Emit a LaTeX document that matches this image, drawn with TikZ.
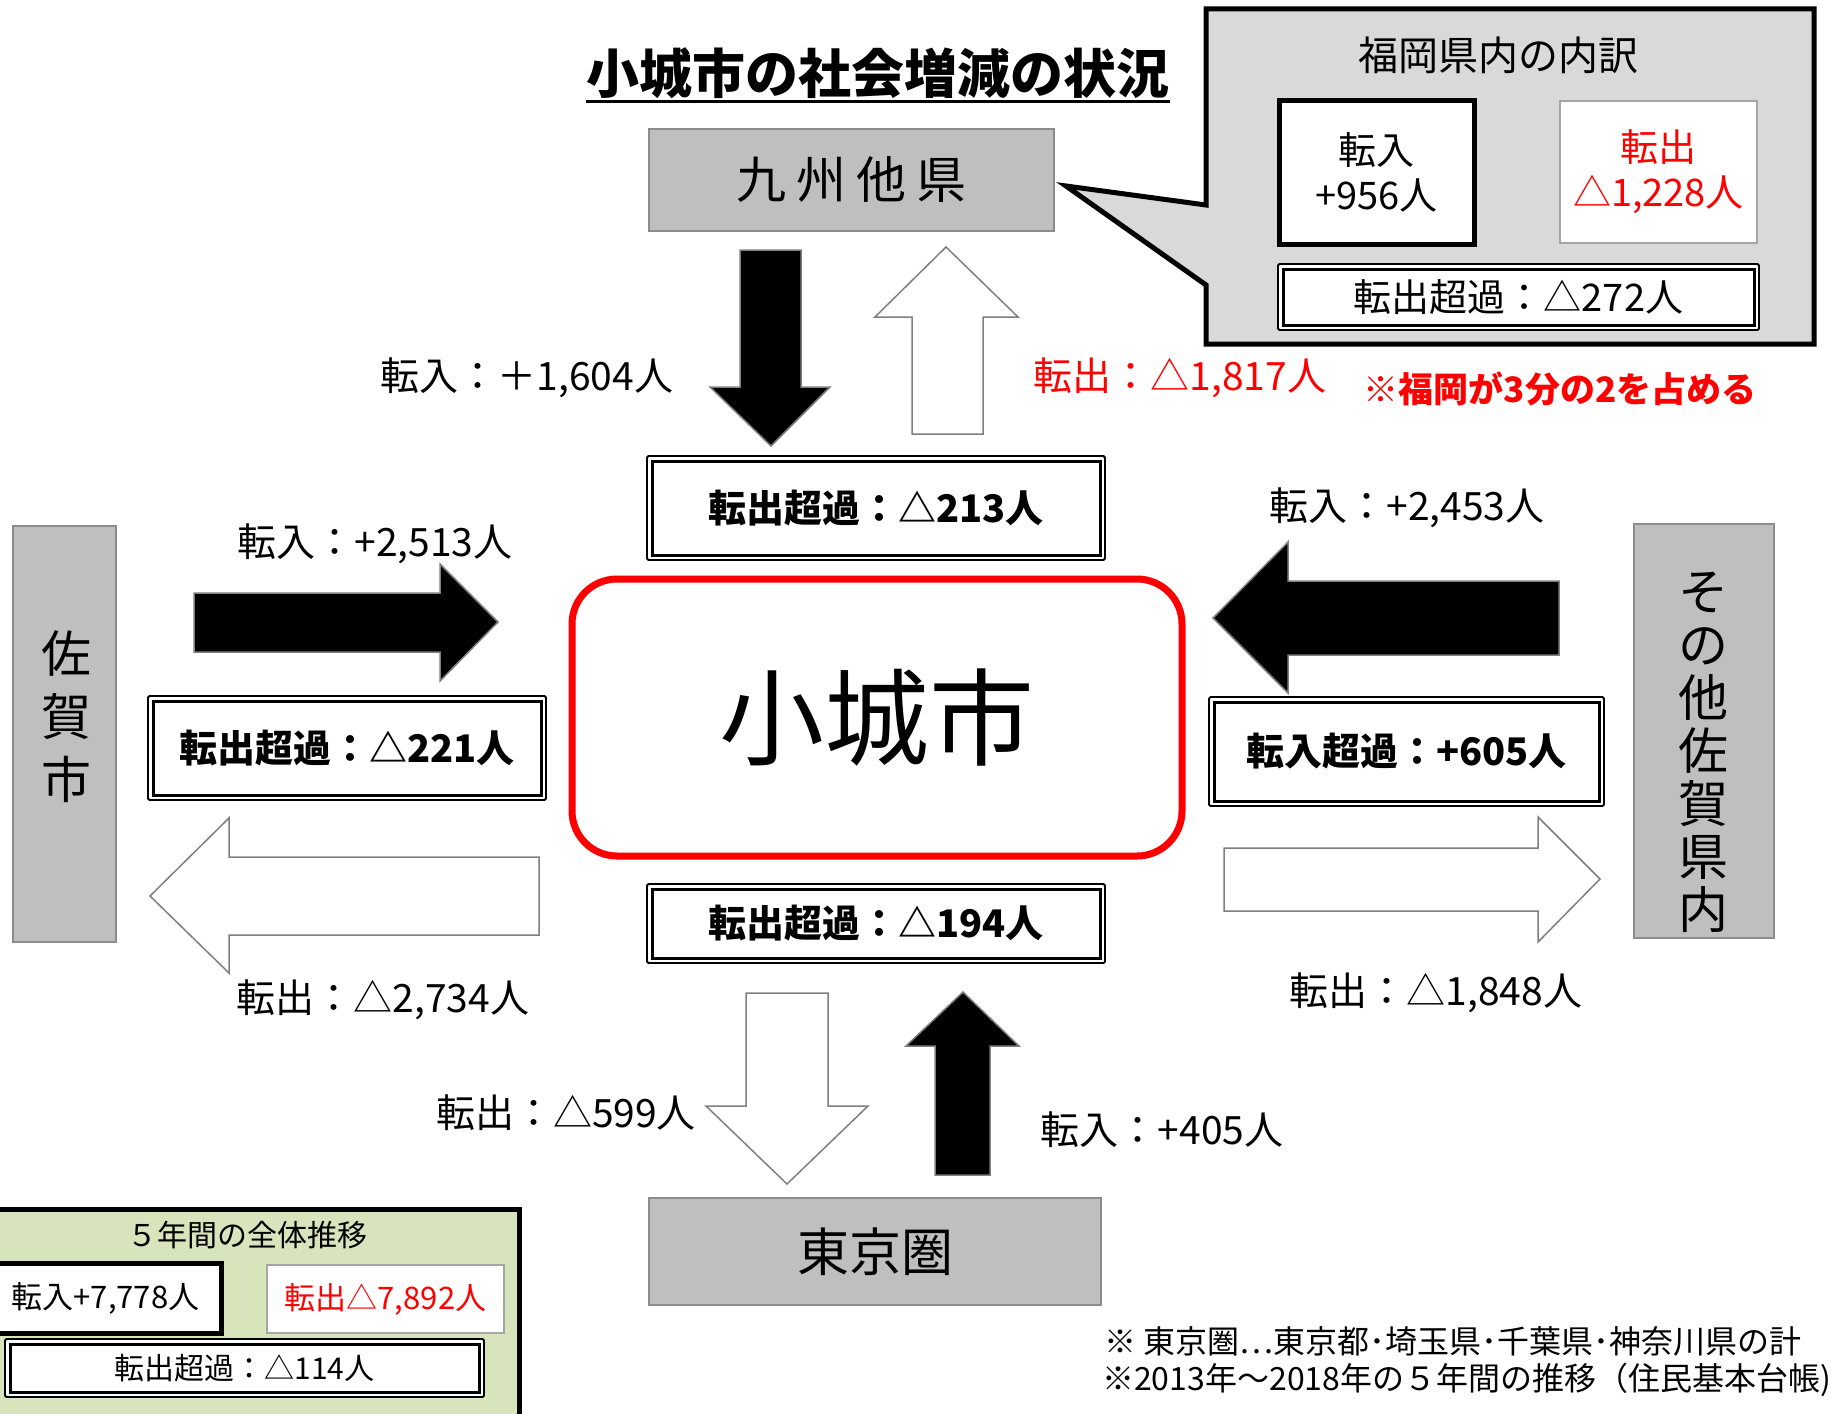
\documentclass[tikz,border=0pt]{standalone}
\usepackage{fontspec}
\setmainfont{Noto Sans CJK JP}
\usetikzlibrary{calc}
\definecolor{boxgray}{HTML}{BFBFBF}
\definecolor{edgegray}{HTML}{8C8C8C}
\definecolor{callgray}{HTML}{D9D9D9}
\definecolor{olivebg}{HTML}{D8E4BC}
\definecolor{myred}{HTML}{FF0000}
\definecolor{arrgray}{HTML}{7F7F7F}
\definecolor{thingray}{HTML}{A6A6A6}
\newcommand\fsz[1]{\fontsize{#1}{#1}\selectfont}
\begin{document}
\begin{tikzpicture}[x=1pt,y=-1pt,
  region/.style={draw=edgegray, fill=boxgray, line width=1.5pt, inner sep=0},
  lbl/.style={inner sep=0, font=\fsz{39}},
  dblbox/.style={draw=black, line width=1.8pt, fill=white, inner sep=0, rounded corners=1.5pt,
    path picture={\draw[line width=3pt, sharp corners]
      ([shift={(5pt,-5pt)}]path picture bounding box.north west) rectangle
      ([shift={(-5pt,5pt)}]path picture bounding box.south east);}},
  blackarrow/.style={fill=black, draw=arrgray, line width=1.5pt, line join=miter},
  whitearrow/.style={fill=white, draw=arrgray, line width=1.5pt, line join=miter},
]
\useasboundingbox (0,0) rectangle (1841,1413);

% title
\node[inner sep=0, font=\fsz{53}\bfseries] (title) at (878,73) {小城市の社会増減の状況};
\draw[line width=2.5pt] ([yshift=-8pt]title.base west) -- ([yshift=-8pt]title.base east);

% Kyushu
\node[region, minimum width=405pt, minimum height=102pt, font=\fsz{50}] (kyushu) at (851.5,180)
  {九\hspace{10pt}州\hspace{10pt}他\hspace{10pt}県};

% callout
\draw[fill=callgray, line width=5pt, line join=miter]
  (1206,9) -- (1814,9) -- (1814,344) -- (1206,344) -- (1206,285) -- (1066,186) -- (1206,205) -- cycle;
\node[inner sep=0, font=\fsz{40}] (ftitle) at (1498,55) {福岡県内の内訳};
\node[draw, line width=5pt, fill=white, minimum width=195pt, minimum height=144pt, align=center,
  font=\fontsize{38}{45}\selectfont, inner sep=0] (fin) at (1376.5,172) {転入\\+956人};
\node[draw=thingray, line width=1.5pt, fill=white, minimum width=197pt, minimum height=142pt, align=center,
  font=\fontsize{38}{45}\selectfont, text=myred, inner sep=0] (fout) at (1658.5,172) {転出\\△1,228人};
\node[dblbox, minimum width=481pt, minimum height=66pt, font=\fsz{38}] (f272) at (1518.5,297) {転出超過：△272人};

% top arrows
\draw[blackarrow] (740,250) -- (801,250) -- (801,387) -- (830,387) -- (771,446) -- (710,387) -- (740,387) -- cycle;
\draw[whitearrow] (912,434) -- (983,434) -- (983,317) -- (1018,317) -- (946,247) -- (875,317) -- (912,317) -- cycle;
\node[lbl] (l1604) at (527,378) {転入：＋1,604人};
\node[lbl, text=myred] (l1817) at (1180,378) {転出：△1,817人};
\node[inner sep=0, font=\fsz{35}\bfseries, text=myred] (note3) at (1560,389) {※福岡が3分の2を占める};

\node[dblbox, minimum width=458pt, minimum height=104pt, font=\fsz{38}\bfseries] (b213) at (876,508) {転出超過：△213人};

% center
\node[draw=myred, line width=7pt, rounded corners=45pt, minimum width=610pt, minimum height=277pt,
  font=\fsz{105}, inner sep=0] (city) at (877,717.5) {小城市};

% left
\node[region, minimum width=103pt, minimum height=416pt] (saga) at (64.5,734) {};
\node[inner sep=0, align=center, font=\fontsize{50}{63}\selectfont] (sagat) at (66,717) {佐\\賀\\市};
\draw[blackarrow] (194,593) -- (440,593) -- (440,564) -- (498,622) -- (440,681) -- (440,652) -- (194,652) -- cycle;
\node[lbl] (l2513) at (375,544) {転入：+2,513人};
\node[dblbox, minimum width=398pt, minimum height=104pt, font=\fsz{38}\bfseries] (b221) at (347,748) {転出超過：△221人};
\draw[whitearrow] (539,857) -- (229,857) -- (229,818) -- (150,896) -- (229,973) -- (229,935) -- (539,935) -- cycle;
\node[lbl] (l2734) at (383,1000) {転出：△2,734人};

% right
\node[region, minimum width=140pt, minimum height=414pt] (other) at (1704,731) {};
\node[inner sep=0, align=center, font=\fontsize{50}{53}\selectfont] (othert) at (1703,752) {そ\\の\\他\\佐\\賀\\県\\内};
\draw[blackarrow] (1559,581) -- (1288,581) -- (1288,542) -- (1213,618) -- (1288,693) -- (1288,655) -- (1559,655) -- cycle;
\node[lbl] (l2453) at (1407,508) {転入：+2,453人};
\node[dblbox, minimum width=395pt, minimum height=109pt, font=\fsz{38}\bfseries] (b605) at (1406.5,751.5) {転入超過：+605人};
\draw[whitearrow] (1224,848) -- (1538,848) -- (1538,817) -- (1600,879) -- (1538,942) -- (1538,911) -- (1224,911) -- cycle;
\node[lbl] (l1848) at (1436,993) {転出：△1,848人};

% bottom
\node[dblbox, minimum width=458pt, minimum height=79pt, font=\fsz{38}\bfseries] (b194) at (876,923.5) {転出超過：△194人};
\draw[whitearrow] (746,993) -- (828,993) -- (828,1106) -- (868,1106) -- (787,1184) -- (706,1106) -- (746,1106) -- cycle;
\draw[blackarrow] (935,1175) -- (990,1175) -- (990,1046) -- (1019,1046) -- (963,992) -- (906,1046) -- (935,1046) -- cycle;
\node[lbl] (l599) at (566,1113) {転出：△599人};
\node[lbl] (l405) at (1162,1130) {転入：+405人};
\node[region, minimum width=452pt, minimum height=107pt, font=\fsz{52}] (tokyo) at (875,1251.5) {東京圏};

% five-year summary
\draw[fill=olivebg, line width=5pt] (-5,1209) rectangle (519,1440);
\node[inner sep=0, font=\fsz{30}] (gtitle) at (247,1235) {５年間の全体推移};
\node[draw, line width=5pt, fill=white, minimum width=231pt, minimum height=70pt, font=\fsz{31}, inner sep=0] (gin) at (105.5,1298) {転入+7,778人};
\node[draw=thingray, line width=1.5pt, fill=white, minimum width=237pt, minimum height=68pt, font=\fsz{31}, text=myred, inner sep=0] (gout) at (385.5,1299) {転出△7,892人};
\node[dblbox, minimum width=479pt, minimum height=58pt, font=\fsz{30}] (g114) at (244.5,1368) {転出超過：△114人};

% notes
\node[anchor=west, inner sep=0, font=\fsz{32}] (note1) at (1104,1341) {※ 東京圏…東京都･埼玉県･千葉県･神奈川県の計};
\node[anchor=west, inner sep=0, font=\fsz{32}] (note2) at (1102,1380) {※2013年～2018年の５年間の推移（住民基本台帳)};
\end{tikzpicture}
\end{document}
